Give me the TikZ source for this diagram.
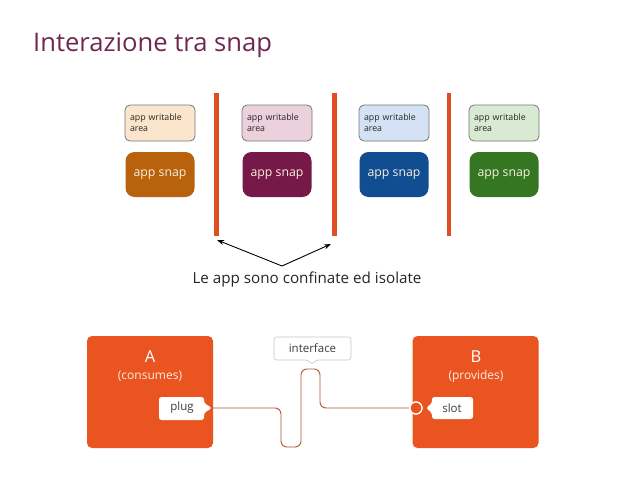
\documentclass[tikz,border=0pt]{standalone}
\usepackage{fontspec}
\setmainfont{Open Sans}
\usetikzlibrary{arrows.meta}
\definecolor{titlec}{RGB}{110,40,82}
\definecolor{barc}{RGB}{222,80,34}
\definecolor{snapA}{RGB}{184,98,14}
\definecolor{snapB}{RGB}{119,25,72}
\definecolor{snapC}{RGB}{16,78,145}
\definecolor{snapD}{RGB}{53,118,35}
\definecolor{wrA}{RGB}{252,229,205}
\definecolor{wrB}{RGB}{234,209,220}
\definecolor{wrC}{RGB}{211,226,244}
\definecolor{wrD}{RGB}{217,234,211}
\definecolor{ubor}{RGB}{233,84,32}
\definecolor{wirec}{RGB}{178,86,52}
\definecolor{txtc}{RGB}{60,60,60}
\begin{document}
\begin{tikzpicture}[x=1pt,y=-1pt,
  wrbox/.style={draw={rgb,255:red,120;green,120;blue,120},line width=0.8pt,rounded corners=5pt,minimum width=70pt,minimum height=36pt,inner sep=0pt,font=\fontsize{8.8}{11}\selectfont,text=black!85,align=left,text width=60pt},
  snapbox/.style={rounded corners=9pt,minimum width=69pt,minimum height=45pt,inner sep=0pt,font=\fontsize{12.3}{14}\selectfont,text={rgb,255:red,250;green,240;blue,225}},
  barline/.style={barc,line width=4.5pt},
  bigbox/.style={fill=ubor,rounded corners=5pt,minimum width=126pt,minimum height=112pt,inner sep=0pt},
  callout/.style={fill=white,rounded corners=2.5pt},
  ctext/.style={font=\fontsize{11.5}{13}\selectfont,text=txtc},
  wire/.style={wirec,line width=0.9pt,rounded corners=6pt},
]
\useasboundingbox (0,0) rectangle (638,479);
\fill[white] (0,0) rectangle (638,479);

\node[anchor=base west,inner sep=0pt,text=titlec,font=\fontsize{25.6}{30}\selectfont] (title) at (33,52) {Interazione tra snap};

% writable areas
\node[wrbox,fill=wrA] (w1) at (160,123) {app writable\\area};
\node[wrbox,fill=wrB] (w2) at (277,123) {app writable\\area};
\node[wrbox,fill=wrC] (w3) at (394,123) {app writable\\area};
\node[wrbox,fill=wrD] (w4) at (504,123) {app writable\\area};

% snaps
\node[snapbox,fill=snapA] (s1) at (160,174.5) {app snap};
\node[snapbox,fill=snapB] (s2) at (277,174.5) {app snap};
\node[snapbox,fill=snapC] (s3) at (394,174.5) {app snap};
\node[snapbox,fill=snapD] (s4) at (504,174.5) {app snap};

% bars
\coordinate (b1t) at (216.5,93); \coordinate (b1b) at (216.5,236);
\coordinate (b2t) at (334.5,93); \coordinate (b2b) at (334.5,236);
\coordinate (b3t) at (449,93); \coordinate (b3b) at (449,236);
\draw[barline] (b1t) -- (b1b);
\draw[barline] (b2t) -- (b2b);
\draw[barline] (b3t) -- (b3b);

% label and arrows
\node[anchor=base,inner sep=0pt,font=\fontsize{15.2}{17}\selectfont,text=black!85] (lbl) at (307,283) {Le app sono confinate ed isolate};
\coordinate (apex) at (282,266);
\coordinate (t1) at (217,240);
\coordinate (t2) at (331,244);
\draw[-{Stealth[length=7pt,width=5pt]},line width=0.9pt] (apex) -- (t1);
\draw[-{Stealth[length=7pt,width=5pt]},line width=0.9pt] (apex) -- (t2);

% bottom boxes
\node[bigbox] (A) at (150,392) {};
\node[bigbox] (B) at (475.5,392) {};
\node[text=white,font=\fontsize{16.5}{18}\selectfont,inner sep=0pt] (Alab) at (150,357) {A};
\node[text={rgb,255:red,255;green,235;blue,225},font=\fontsize{12}{13}\selectfont,inner sep=0pt] (Asub) at (150,376) {(consumes)};
\node[text=white,font=\fontsize{16.5}{18}\selectfont,inner sep=0pt] (Blab) at (476,357) {B};
\node[text={rgb,255:red,255;green,235;blue,225},font=\fontsize{12}{13}\selectfont,inner sep=0pt] (Bsub) at (476,376) {(provides)};

% plug callout
\fill[callout] (159,397) -- (204,397) -- (204,403) -- (212,408) -- (204,413) -- (204,420) -- (159,420) -- cycle;
\node[ctext] (plug) at (182,408) {plug};
\coordinate (plugtip) at (212,408);

% slot callout
\fill[callout] (432,397) -- (473,397) -- (473,419) -- (432,419) -- (432,413) -- (426,408) -- (432,403) -- cycle;
\node[ctext] (slot) at (452,408) {slot};

% interface callout
\filldraw[callout,draw={rgb,255:red,200;green,200;blue,200},line width=0.6pt] (274,337) -- (351,337) -- (351,360) -- (316,360) -- (312,364.5) -- (308,360) -- (274,360) -- cycle;
\node[ctext] (iface) at (312.5,348.5) {interface};

% wire
\node[circle,fill=ubor,draw=white,line width=1.2pt,minimum size=12pt,inner sep=0pt] (sock) at (416,408) {};
\draw[wire] (plugtip) -- (281,408) -- (281,447) -- (301,447) -- (301,369) -- (320,369) -- (320,408) -- (sock.west);
\node[circle,fill=ubor,draw=white,line width=1.2pt,minimum size=12pt,inner sep=0pt] at (sock) {};
\end{tikzpicture}
\end{document}
